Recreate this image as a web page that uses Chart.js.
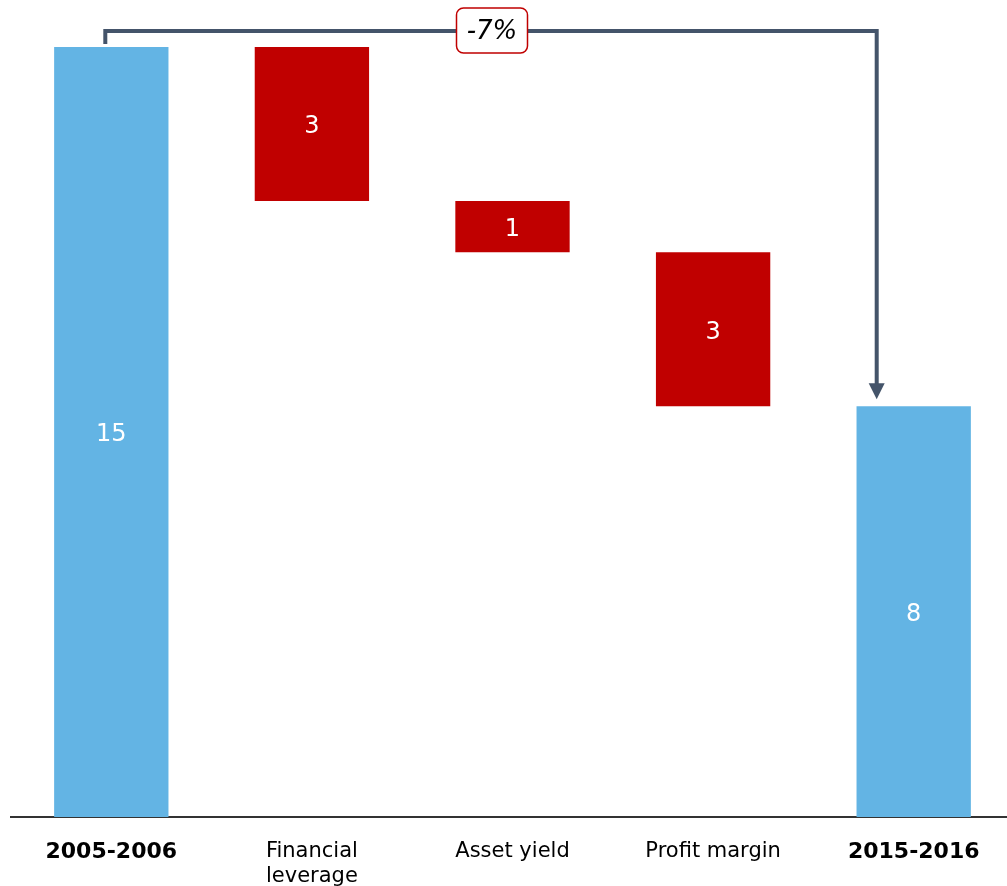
<!DOCTYPE html>
<html>
<head>
<meta charset="utf-8">
<title>Waterfall</title>
<script src="https://cdn.jsdelivr.net/npm/chart.js@4/dist/chart.umd.min.js"></script>
<style>
  html, body { margin: 0; padding: 0; background: #fff; overflow: hidden; }
  #wrap { position: absolute; left: 0; top: 0; width: 1014px; height: 886px; }
</style>
</head>
<body>
<div id="wrap"><canvas id="chart"></canvas></div>
<script>
// waterfall steps: first and last are totals, the rest are changes
const categories = ['2005-2006', ['Financial', 'leverage'], 'Asset yield', 'Profit margin', '2015-2016'];
const changes = [15, -3, -1, -3, 8];
const isTotal = [true, false, false, false, true];
const overallChange = '-7%';

const BLUE = '#63B4E4';
const RED = '#C00000';
const SLATE = '#44546A';
const FONT = '"DejaVu Sans", Verdana, sans-serif';

// turn the steps into floating [from, to] ranges
const ranges = [];
let running = 0;
changes.forEach((v, i) => {
    if (isTotal[i]) {
        ranges.push([0, v]);
        running = v;
    } else {
        ranges.push([running, running + v]);
        running += v;
    }
});

// white value labels in the middle of each bar
const barValues = {
    id: 'barValues',
    afterDatasetsDraw(chart) {
        const { ctx } = chart;
        const meta = chart.getDatasetMeta(0);
        ctx.save();
        ctx.fillStyle = '#fff';
        ctx.font = '24px ' + FONT;
        ctx.textAlign = 'center';
        ctx.textBaseline = 'middle';
        meta.data.forEach((bar, i) => {
            const mid = (bar.y + bar.base) / 2 + 3;
            ctx.fillText(String(Math.abs(changes[i])), bar.x, mid);
        });
        ctx.restore();
    }
};

// bracket from the first total to the last one, with the overall change
const bracket = {
    id: 'bracket',
    afterDatasetsDraw(chart) {
        const { ctx } = chart;
        const bars = chart.getDatasetMeta(0).data;
        const first = bars[0];
        const last = bars[bars.length - 1];
        const x1 = first.x - 6;
        const x2 = last.x - 37;
        const yTop = first.y - 16;
        const tipY = last.y - 7;

        ctx.save();
        ctx.strokeStyle = SLATE;
        ctx.fillStyle = SLATE;
        ctx.lineWidth = 4;
        ctx.lineJoin = 'miter';
        ctx.beginPath();
        ctx.moveTo(x1, first.y - 3);
        ctx.lineTo(x1, yTop);
        ctx.lineTo(x2, yTop);
        ctx.lineTo(x2, tipY - 14);
        ctx.stroke();

        // arrow head
        ctx.beginPath();
        ctx.moveTo(x2 - 8, tipY - 16);
        ctx.lineTo(x2 + 8, tipY - 16);
        ctx.lineTo(x2, tipY);
        ctx.closePath();
        ctx.fill();

        // label box
        const cx = (x1 + x2) / 2 + 1;
        const w = 71, h = 45, r = 7;
        const bx = cx - w / 2, by = yTop - 23;
        ctx.beginPath();
        ctx.roundRect(bx, by, w, h, r);
        ctx.fillStyle = '#fff';
        ctx.fill();
        ctx.lineWidth = 1.5;
        ctx.strokeStyle = RED;
        ctx.stroke();

        ctx.fillStyle = '#000';
        ctx.font = 'italic 26px ' + FONT;
        ctx.textAlign = 'center';
        ctx.textBaseline = 'middle';
        ctx.fillText(overallChange, cx, by + h / 2 + 2);
        ctx.restore();
    }
};

new Chart(document.getElementById('chart'), {
    type: 'bar',
    data: {
        labels: categories,
        datasets: [{
            data: ranges,
            backgroundColor: isTotal.map(t => t ? BLUE : RED),
            borderWidth: 0,
            barPercentage: 1,
            categoryPercentage: 0.57,
        }],
    },
    options: {
        responsive: true,
        maintainAspectRatio: false,
        animation: false,
        layout: {
            padding: { top: 47, left: 11, right: 0, bottom: 0 },
        },
        scales: {
            x: {
                grid: { display: false, drawTicks: false },
                border: { display: true, color: '#333', width: 2 },
                ticks: {
                    color: '#000',
                    padding: 22,
                    maxRotation: 0,
                    autoSkip: false,
                    font: (ctx) => ({
                        family: FONT,
                        size: isTotal[ctx.index] ? 22 : 21,
                        lineHeight: 1.2,
                        weight: isTotal[ctx.index] ? 'bold' : 'normal',
                    }),
                },
                afterFit(scale) {
                    scale.height = 69;
                },
            },
            y: {
                display: false,
                min: 0,
                max: 15,
            },
        },
        plugins: {
            legend: { display: false },
            tooltip: { enabled: false },
        },
    },
    plugins: [barValues, bracket],
});
</script>
</body>
</html>
